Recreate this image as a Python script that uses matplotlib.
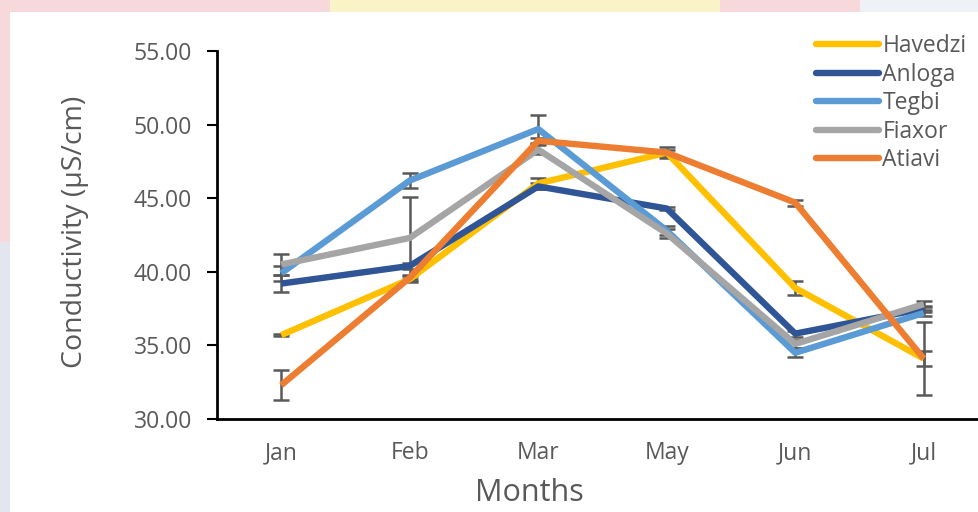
import matplotlib
matplotlib.use("Agg")
import matplotlib.pyplot as plt
from matplotlib.patches import Rectangle
from matplotlib.lines import Line2D

months = ["Jan", "Feb", "Mar", "May", "Jun", "Jul"]
series_names = ["Havedzi", "Anloga", "Tegbi", "Fiaxor", "Atiavi"]
havedzi = [35.7, 39.5, 46.0, 48.1, 38.9, 34.1]
anloga = [39.2, 40.4, 45.8, 44.3, 35.8, 37.5]
tegbi = [39.9, 46.2, 49.7, 42.8, 34.5, 37.2]
fiaxor = [40.5, 42.3, 48.3, 42.6, 35.1, 37.8]
atiavi = [32.3, 39.6, 48.9, 48.1, 44.7, 34.1]
havedzi_err = [0.05, 0.2, 0.4, 0.4, 0.5, 0.5]
anloga_err = [0.6, 0.2, 0.2, 0.1, 0.2, 0.2]
tegbi_err = [0.5, 0.5, 0.95, 0.3, 0.3, 0.2]
fiaxor_err = [0.7, 2.8, 0.3, 0.3, 0.3, 0.2]
atiavi_err = [1.0, 0.2, 0.2, 0.2, 0.2, 2.5]
yticks = [30, 35, 40, 45, 50, 55]

values = [havedzi, anloga, tegbi, fiaxor, atiavi]
errors = [havedzi_err, anloga_err, tegbi_err, fiaxor_err, atiavi_err]
colors = ["#FFC000", "#2F5597", "#5B9BD5", "#A5A5A5", "#ED7D31"]

fig = plt.figure(figsize=(9.79, 5.12), dpi=100)
fig.patch.set_facecolor("white")

# screenshot background artefacts
fig.patches.append(Rectangle((0, 1 - 12/512), 1, 12/512, transform=fig.transFigure,
                             facecolor="#F7D9DC", edgecolor="none", zorder=0))
fig.patches.append(Rectangle((330/979, 1 - 12/512), 390/979, 12/512, transform=fig.transFigure,
                             facecolor="#FBF3C8", edgecolor="none", zorder=0))
fig.patches.append(Rectangle((860/979, 1 - 12/512), 119/979, 12/512, transform=fig.transFigure,
                             facecolor="#EEF1F6", edgecolor="none", zorder=0))
fig.patches.append(Rectangle((0, 270/512), 10/979, 242/512, transform=fig.transFigure,
                             facecolor="#F7D9DC", edgecolor="none", zorder=0))
fig.patches.append(Rectangle((0, 0), 10/979, 270/512, transform=fig.transFigure,
                             facecolor="#E3E6EF", edgecolor="none", zorder=0))

ax = fig.add_axes([217/979, (512-419)/512, (988-217)/979, (419-51)/512])
ax.set_facecolor("none")

x = list(range(len(months)))
handles = []
for name, vals, errs, c in zip(series_names, values, errors, colors):
    ax.errorbar(x, vals, yerr=errs, fmt="none", ecolor="#595959", elinewidth=1.8,
                capsize=6, capthick=1.8, zorder=2)
    ax.plot(x, vals, color=c, lw=4.6, solid_joinstyle="round",
            solid_capstyle="butt", zorder=3, label=name)
    handles.append(Line2D([0], [0], color=c, lw=4.6, solid_capstyle="round"))

ax.set_xlim(-0.5, 5.5)
ax.set_ylim(30, 55)
ax.set_xticks(x)
ax.set_xticklabels(months)
ax.set_yticks(yticks)
ax.set_yticklabels([f"{t:.2f}" for t in yticks])

font = ["Open Sans", "DejaVu Sans"]
for lab in ax.get_xticklabels() + ax.get_yticklabels():
    lab.set_fontfamily(font)
    lab.set_fontsize(16.5)
    lab.set_color("#595959")

ax.tick_params(axis="x", length=0, pad=16)
ax.tick_params(axis="y", length=7, width=1.5, color="black", pad=11, direction="out")
for s in ["top", "right"]:
    ax.spines[s].set_visible(False)
for s in ["left", "bottom"]:
    ax.spines[s].set_linewidth(2)
    ax.spines[s].set_color("black")

fig.text(529/979, 1 - 493/512, "Months", ha="center", va="center",
         fontsize=22, color="#595959", family=font)
fig.text(75/979, 1 - 232/512, "Conductivity (µS/cm)", ha="center", va="center",
         rotation=90, fontsize=20.5, color="#595959", family=font)

leg = fig.legend(handles, series_names, loc="upper left",
                 bbox_to_anchor=(816/979, 1 - 34/512), frameon=False,
                 handlelength=2.75, handletextpad=0.15, labelspacing=0.2,
                 prop={"family": font, "size": 16.5}, borderaxespad=0, borderpad=0)
for t in leg.get_texts():
    t.set_color("#595959")

fig.savefig("out.png", dpi=100)
